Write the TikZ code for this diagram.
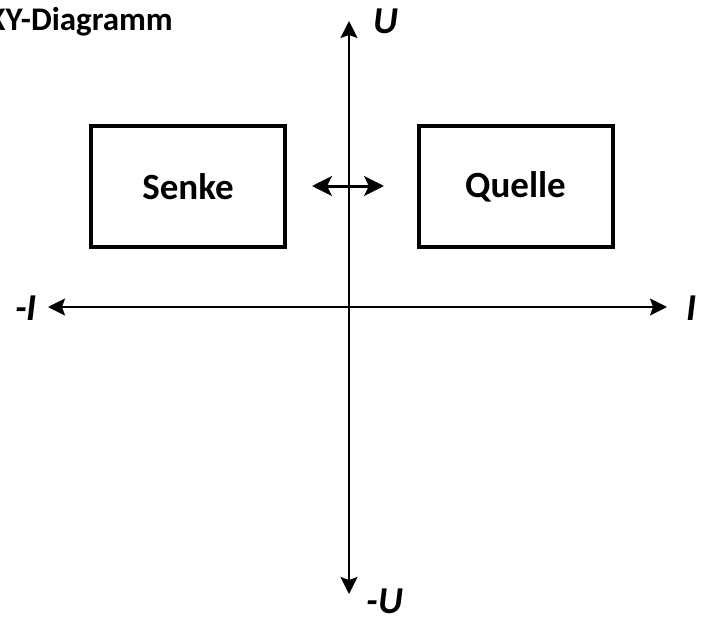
\documentclass[tikz,border=0pt]{standalone}
\usepackage{fontspec}
\setmainfont{Carlito}
\usetikzlibrary{arrows.meta}
\tikzset{
  axis/.style={line width=2pt,-{Stealth[length=17pt,width=17pt,inset=3pt]}},
  dbl/.style={line width=3pt,{Stealth[length=20pt,width=20pt,inset=5pt]}-{Stealth[length=20pt,width=20pt,inset=5pt]}},
  box/.style={draw,line width=4pt,minimum width=194pt,minimum height=121pt,inner sep=0pt,font=\bfseries\fontsize{37}{44}\selectfont},
  lab/.style={font=\bfseries\itshape\fontsize{38}{44}\selectfont,inner sep=0pt},
}
\begin{document}
\begin{tikzpicture}[x=1pt,y=-1pt]
\useasboundingbox (0,0) rectangle (708,618);
\node[anchor=east,inner sep=0pt,font=\bfseries\fontsize{33}{38}\selectfont] (title) at (173,22) {XY-Diagramm};
\coordinate (top) at (349,21);
\coordinate (bot) at (349,594);
\coordinate (left) at (48,307);
\coordinate (right) at (667,307);
\coordinate (dl) at (312,186);
\coordinate (dr) at (384,186);
\draw[axis] (349,307) -- (top);
\draw[axis] (349,307) -- (bot);
\draw[axis] (349,307) -- (left);
\draw[axis] (349,307) -- (right);
\draw[dbl] (dl) -- (dr);
\node[box] (senke) at (188,186.5) {Senke};
\node[box] (quelle) at (515.5,186.5) {Quelle};
\node[lab] (u) at (386,21) {U};
\node[lab] (mu) at (385,601) {-U};
\node[lab] (mi) at (26,308.5) {-I};
\node[lab] (i) at (692,308.5) {I};
\end{tikzpicture}
\end{document}
